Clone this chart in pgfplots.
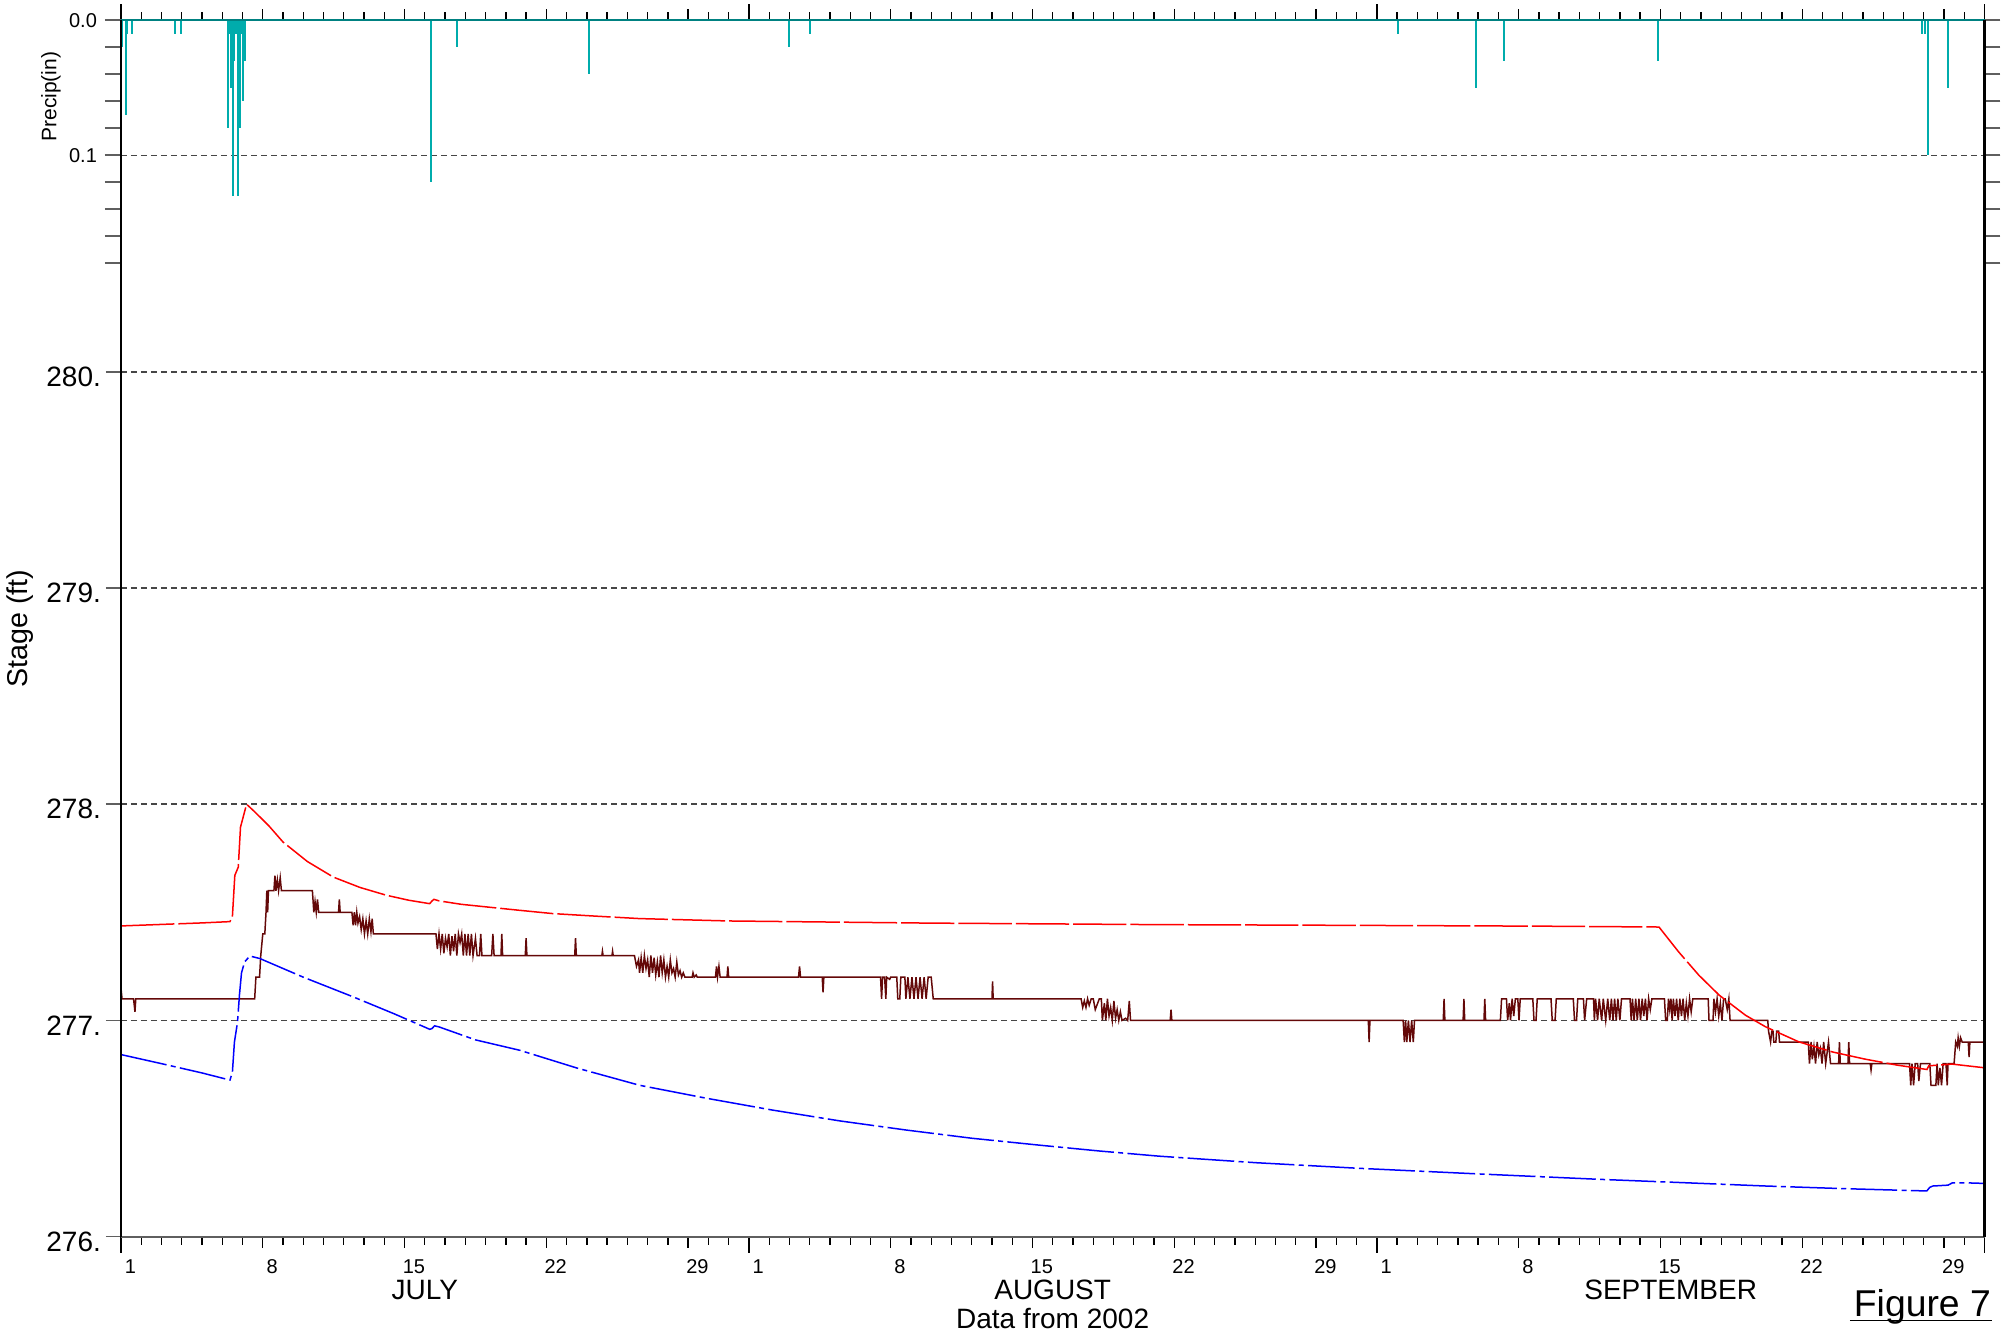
\documentclass[border=0pt]{standalone}
\usepackage{pgfplots}
\pgfplotsset{compat=1.18}
\usepackage{fontspec}
\setmainfont{Liberation Sans}
\definecolor{precipc}{RGB}{0,172,172}
\definecolor{stagedark}{RGB}{100,8,8}
\definecolor{gridgray}{RGB}{70,70,70}
\definecolor{tickgray}{RGB}{95,95,95}

\begin{document}
\begin{tikzpicture}
\pgfplotsset{
  base/.style={at={(0pt,0pt)}, anchor=south west, scale only axis,
    width=559.05pt, height=364.89pt, xmin=0, xmax=92,
    axis line style={draw=none}, /pgf/number format/assume math mode=true},
}

% ---- x ticks (days) ----
\begin{axis}[base, ymin=0, ymax=1,
  xtick pos=both, xticklabel pos=lower, tick align=outside,
  xtick={0,7,14,21,28,31,38,45,52,59,62,69,76,83,90},
  xticklabels={1,8,15,22,29,1,8,15,22,29,1,8,15,22,29},
  minor xtick={0,1,...,92},
  ytick=\empty,
  major tick length=3.3pt, minor tick length=2.4pt,
  xticklabel style={font=\fontsize{6}{7}\selectfont, xshift=2.8pt},
  every tick/.style={black, line width=0.4pt},
]
\end{axis}

% ---- stage axis ----
\begin{axis}[base, ymin=276, ymax=281.626,
  xtick=\empty,
  ytick={276,277,278,279,280}, yticklabels={276.,277.,278.,279.,280.},
  ytick pos=left, tick align=outside, major tick length=4.5pt,
  ymajorgrids, major grid style={gridgray, line width=0.45pt, dash pattern=on 1.8pt off 1.2pt},
  yticklabel style={font=\fontsize{8.4}{10}\selectfont, xshift=2pt, yshift=-1.5pt},
  every tick/.style={tickgray, line width=0.5pt},
]
% observed stage (dark red)
\addplot[stagedark, line width=0.45pt] coordinates {
(0.00,277.15)(0.05,277.10)(0.62,277.10)(0.69,277.04)(0.73,277.10)(6.60,277.10)
(6.66,277.20)(6.84,277.20)(6.90,277.30)(7.00,277.40)(7.10,277.40)(7.16,277.50)
(7.20,277.60)(7.24,277.50)(7.28,277.60)(7.55,277.60)(7.60,277.67)(7.65,277.60)
(7.72,277.65)(7.78,277.60)(7.86,277.66)(7.92,277.60)(9.45,277.60)(9.52,277.50)
(9.58,277.55)(9.64,277.50)(9.70,277.56)(9.76,277.50)(10.74,277.50)(10.78,277.56)
(10.82,277.50)(11.40,277.50)(11.46,277.44)(11.52,277.50)(11.58,277.44)(11.64,277.50)
(11.70,277.45)(11.78,277.48)(11.86,277.42)(11.94,277.47)(12.02,277.40)(12.10,277.46)
(12.18,277.40)(12.26,277.47)(12.34,277.41)(12.40,277.47)(12.46,277.40)(15.55,277.40)
(15.62,277.33)(15.70,277.40)(15.78,277.33)(15.86,277.40)(15.94,277.31)(16.02,277.38)
(16.10,277.34)(16.18,277.40)(16.26,277.30)(16.34,277.39)(16.42,277.32)(16.50,277.40)
(16.58,277.30)(16.66,277.40)(16.74,277.36)(16.82,277.40)(16.90,277.30)(16.98,277.40)
(17.06,277.30)(17.14,277.40)(17.22,277.30)(17.30,277.40)(17.38,277.30)(17.50,277.38)
(17.58,277.30)(17.70,277.30)(17.76,277.40)(17.82,277.30)(18.30,277.30)(18.36,277.40)
(18.42,277.30)(18.76,277.30)(18.80,277.40)(18.84,277.30)(19.96,277.30)(20.00,277.38)
(20.04,277.30)(22.40,277.30)(22.44,277.38)(22.48,277.30)(23.74,277.30)(23.77,277.32)
(23.80,277.30)(24.24,277.30)(24.27,277.32)(24.30,277.30)(25.35,277.30)(25.45,277.25)
(25.55,277.28)(25.60,277.22)(25.68,277.29)(25.76,277.22)(25.84,277.30)(25.92,277.24)
(26.00,277.28)(26.08,277.20)(26.16,277.30)(26.24,277.22)(26.32,277.29)(26.40,277.21)
(26.48,277.27)(26.56,277.20)(26.64,277.30)(26.72,277.22)(26.80,277.28)(26.88,277.20)
(26.96,277.25)(27.04,277.20)(27.12,277.28)(27.20,277.22)(27.28,277.24)(27.36,277.20)
(27.44,277.27)(27.52,277.21)(27.60,277.23)(27.68,277.20)(27.76,277.22)(27.84,277.20)
(28.20,277.20)(28.24,277.22)(28.30,277.20)(28.40,277.21)(28.45,277.20)(29.35,277.20)
(29.40,277.25)(29.45,277.20)(29.52,277.25)(29.58,277.20)(29.92,277.20)(29.96,277.25)
(30.00,277.20)(33.45,277.20)(33.50,277.25)(33.55,277.20)(34.62,277.20)(34.66,277.13)
(34.70,277.20)(37.50,277.20)(37.55,277.10)(37.60,277.20)(37.70,277.20)(37.76,277.10)
(37.80,277.20)(37.95,277.19)(38.00,277.20)(38.30,277.20)(38.35,277.10)(38.45,277.10)
(38.50,277.20)(38.70,277.20)(38.75,277.10)(38.85,277.20)(38.95,277.10)(39.05,277.20)
(39.15,277.10)(39.25,277.20)(39.35,277.10)(39.45,277.20)(39.55,277.10)(39.65,277.20)
(39.75,277.10)(39.85,277.20)(40.00,277.20)(40.10,277.10)(40.40,277.10)(43.00,277.10)
(43.03,277.18)(43.06,277.10)(47.40,277.10)(47.48,277.06)(47.56,277.09)(47.64,277.06)
(47.72,277.10)(47.80,277.07)(47.90,277.10)(48.00,277.10)(48.10,277.05)(48.30,277.10)
(48.40,277.10)(48.45,277.00)(48.55,277.08)(48.62,277.00)(48.70,277.10)(48.78,277.02)
(48.86,277.06)(48.94,277.00)(49.02,277.09)(49.10,277.01)(49.18,277.05)(49.26,277.00)
(49.34,277.04)(49.42,277.00)(49.60,277.01)(49.70,277.00)(49.78,277.09)(49.84,277.00)
(51.80,277.00)(51.84,277.05)(51.88,277.00)(61.58,277.00)(61.62,276.90)(61.66,277.00)
(63.30,277.00)(63.36,276.90)(63.42,277.00)(63.48,276.90)(63.56,277.00)(63.64,276.90)
(63.72,277.00)(63.80,276.90)(63.86,277.00)(65.28,277.00)(65.32,277.10)(65.36,277.00)
(66.26,277.00)(66.30,277.10)(66.34,277.00)(67.29,277.00)(67.33,277.10)(67.37,277.00)
(68.10,277.00)(68.16,277.10)(68.40,277.10)(68.46,277.00)(68.54,277.08)(68.60,277.00)
(68.68,277.10)(68.76,277.02)(68.84,277.10)(68.96,277.10)(69.02,277.00)(69.08,277.10)
(69.70,277.10)(69.76,277.00)(69.86,277.00)(69.92,277.10)(70.60,277.10)(70.66,277.00)
(70.80,277.00)(70.86,277.10)(71.70,277.10)(71.76,277.00)(71.86,277.00)(71.92,277.10)
(72.20,277.10)(72.26,277.00)(72.36,277.10)(72.70,277.10)(72.74,277.00)(72.80,277.10)
(72.90,277.00)(72.98,277.10)(73.10,277.00)(73.18,277.10)(73.30,277.00)(73.40,277.10)
(73.50,277.00)(73.58,277.10)(73.66,277.00)(73.74,277.10)(73.82,277.00)(73.90,277.10)
(74.00,277.00)(74.08,277.10)(74.50,277.10)(74.56,277.00)(74.62,277.10)(74.70,277.00)
(74.78,277.10)(74.86,277.00)(74.94,277.10)(75.02,277.00)(75.10,277.10)(75.18,277.02)
(75.26,277.10)(75.34,277.00)(75.42,277.10)(75.50,277.05)(75.58,277.10)(76.20,277.10)
(76.26,277.00)(76.34,277.00)(76.40,277.10)(76.46,277.05)(76.52,277.10)(76.58,277.00)
(76.64,277.10)(76.72,277.02)(76.80,277.10)(76.88,277.00)(76.96,277.10)(77.04,277.02)
(77.12,277.10)(77.20,277.00)(77.28,277.08)(77.36,277.02)(77.44,277.10)(77.52,277.04)
(77.60,277.10)(78.36,277.10)(78.40,277.00)(78.60,277.00)(78.64,277.10)(78.72,277.04)
(78.80,277.10)(78.88,277.02)(78.96,277.08)(79.04,277.00)(79.12,277.10)(79.20,277.10)
(79.30,277.05)(79.38,277.10)(79.44,277.00)(81.30,277.00)(81.34,276.95)(81.40,276.92)
(81.44,276.90)(81.50,276.95)(81.56,276.95)(81.60,276.90)(81.70,276.90)(81.74,276.95)
(81.84,276.95)(81.88,276.90)(83.30,276.90)(83.36,276.80)(83.44,276.90)(83.50,276.82)
(83.58,276.88)(83.66,276.80)(83.74,276.90)(83.82,276.84)(83.90,276.87)(83.98,276.80)
(84.06,276.90)(84.16,276.80)(84.30,276.90)(84.40,276.80)(84.80,276.80)(84.84,276.90)
(84.88,276.80)(85.26,276.80)(85.30,276.90)(85.34,276.80)(86.36,276.80)(86.40,276.77)
(86.44,276.80)(88.30,276.80)(88.36,276.70)(88.42,276.80)(88.50,276.70)(88.58,276.80)
(88.70,276.80)(88.76,276.72)(88.84,276.80)(89.30,276.80)(89.36,276.70)(89.60,276.70)
(89.66,276.80)(89.72,276.70)(89.80,276.78)(89.88,276.70)(89.96,276.80)(90.10,276.80)
(90.16,276.70)(90.20,276.80)(90.50,276.80)(90.58,276.90)(90.66,276.88)(90.70,276.92)
(90.76,276.88)(90.82,276.92)(90.90,276.90)(91.20,276.90)(91.24,276.83)(91.28,276.90)
(92.00,276.90)
};
% blue dash-dot series
\addplot[blue, line width=0.45pt, dash pattern=on 14pt off 1.3pt on 1.5pt off 1.3pt] coordinates {
(0.0,276.842)(2.0,276.800)(4.0,276.757)(5.38,276.724)(5.50,276.76)(5.60,276.90)
(5.75,276.99)(5.85,277.12)(5.95,277.22)(6.10,277.27)(6.36,277.298)(6.86,277.286)
(9.0,277.20)(11.46,277.109)(13.5,277.03)(15.24,276.959)(15.35,276.962)(15.48,276.975)
(15.7,276.97)(17.5,276.91)(19.68,276.862)(22.5,276.78)(25.6,276.700)(28.9,276.64)
(32.18,276.585)(35.5,276.535)(38.76,276.493)(42.0,276.455)(45.34,276.423)(48.3,276.396)
(51.26,276.372)(56.0,276.342)(61.1,276.316)(67.0,276.290)(72.97,276.265)(77.0,276.250)
(81.2,276.234)(85.0,276.222)(88.8,276.212)(89.16,276.212)(89.30,276.228)(89.45,276.234)
(90.20,276.238)(90.40,276.248)(91.0,276.249)(92.0,276.246)
};
% red long-dash series
\addplot[red, line width=0.45pt, dash pattern=on 16pt off 1.2pt] coordinates {
(0.0,277.437)(2.0,277.444)(4.0,277.451)(5.38,277.457)(5.50,277.48)(5.62,277.671)
(5.79,277.709)(5.90,277.894)(6.03,277.94)(6.20,278.0)(6.6,277.965)(7.3,277.90)
(8.0,277.825)(9.2,277.735)(10.48,277.663)(11.8,277.615)(13.1,277.579)(14.2,277.556)
(15.24,277.540)(15.35,277.552)(15.45,277.56)(15.7,277.553)(16.8,277.537)(18.04,277.525)
(19.6,277.51)(21.33,277.494)(23.5,277.482)(25.6,277.471)(30.0,277.460)(35.0,277.455)
(40.0,277.450)(45.0,277.447)(51.26,277.443)(60.0,277.440)(70.0,277.436)(75.93,277.432)
(76.9,277.317)(77.9,277.209)(78.9,277.117)(80.2,277.024)(81.2,276.970)(82.83,276.901)
(84.5,276.854)(86.1,276.821)(87.7,276.793)(89.16,276.773)(89.25,276.79)(90.4,276.798)
(91.9,276.782)(92.0,276.781)
};
\end{axis}

% ---- precipitation axis (reversed) ----
\begin{axis}[base, ymin=0, ymax=0.90096, y dir=reverse,
  xtick={0,31,62,92}, xticklabels={}, xtick pos=both, tick align=outside,
  ytick={0,0.02,0.04,0.06,0.08,0.1,0.12,0.14,0.16,0.18},
  yticklabels={0.0,,,,,0.1,,,,},
  ytick pos=both, yticklabel pos=left, major tick length=4.8pt,
  extra y ticks={0.1}, extra y tick labels={}, extra y tick style={grid=major},
  major grid style={gridgray, line width=0.45pt, dash pattern=on 1.8pt off 1.2pt},
  yticklabel style={font=\fontsize{6}{7}\selectfont, xshift=1.1pt},
  every tick/.style={tickgray, line width=0.5pt},
  every x tick/.style={black, line width=0.5pt},
]
\addplot[ycomb, precipc, line width=0.6pt] coordinates {
(0.03,0.02)(0.23,0.07)(0.30,0.01)(0.56,0.01)(2.66,0.01)(2.96,0.01)
(5.30,0.08)(5.40,0.01)(5.45,0.05)(5.53,0.13)(5.60,0.03)(5.65,0.01)(5.72,0.01)
(5.80,0.13)(5.87,0.08)(5.92,0.01)(6.03,0.06)(6.10,0.03)
(15.30,0.12)(16.60,0.02)(23.10,0.04)(33.00,0.02)(34.00,0.01)
(63.05,0.01)(66.90,0.05)(68.30,0.03)(75.90,0.03)
(88.90,0.01)(89.05,0.01)(89.20,0.10)(90.20,0.05)
};
\end{axis}

% axis frame lines
\draw[tickgray, line width=0.6pt] (0pt,0pt) -- (559.05pt,0pt);
\draw[precipc!75!black, line width=0.6pt] (0pt,364.89pt) -- (559.05pt,364.89pt);
\draw[black, line width=0.45pt] (0pt,0pt) -- (0pt,364.89pt);
\draw[black, line width=0.7pt] (559.05pt,0pt) -- (559.05pt,364.89pt);

% axis titles and month labels
\node[rotate=90, font=\fontsize{8.6}{10}\selectfont] at (-30.15pt,182.4pt) {Stage (ft)};
\node[rotate=90, font=\fontsize{6.3}{7}\selectfont] at (-21pt,341.97pt) {Precip(in)};
\node[font=\fontsize{8.4}{10}\selectfont] at (91.15pt,-16pt) {JULY};
\node[font=\fontsize{8.4}{10}\selectfont] at (279.5pt,-16pt) {AUGUST};
\node[font=\fontsize{8.4}{10}\selectfont] at (464.9pt,-16pt) {SEPTEMBER};
\node[font=\fontsize{8.4}{10}\selectfont] at (279.5pt,-24.7pt) {Data from 2002};
\node[font=\fontsize{11.2}{13}\selectfont, anchor=base east, inner sep=0pt] (fig) at (561.15pt,-24.03pt) {Figure 7};
\draw[black, line width=0.4pt] ([xshift=-1pt,yshift=-1.1pt]fig.base west) -- ([yshift=-1.1pt]fig.base east);

\pgfresetboundingbox
\path (-36.3pt,-30.72pt) rectangle (565.8pt,370.98pt);
\end{tikzpicture}
\end{document}
